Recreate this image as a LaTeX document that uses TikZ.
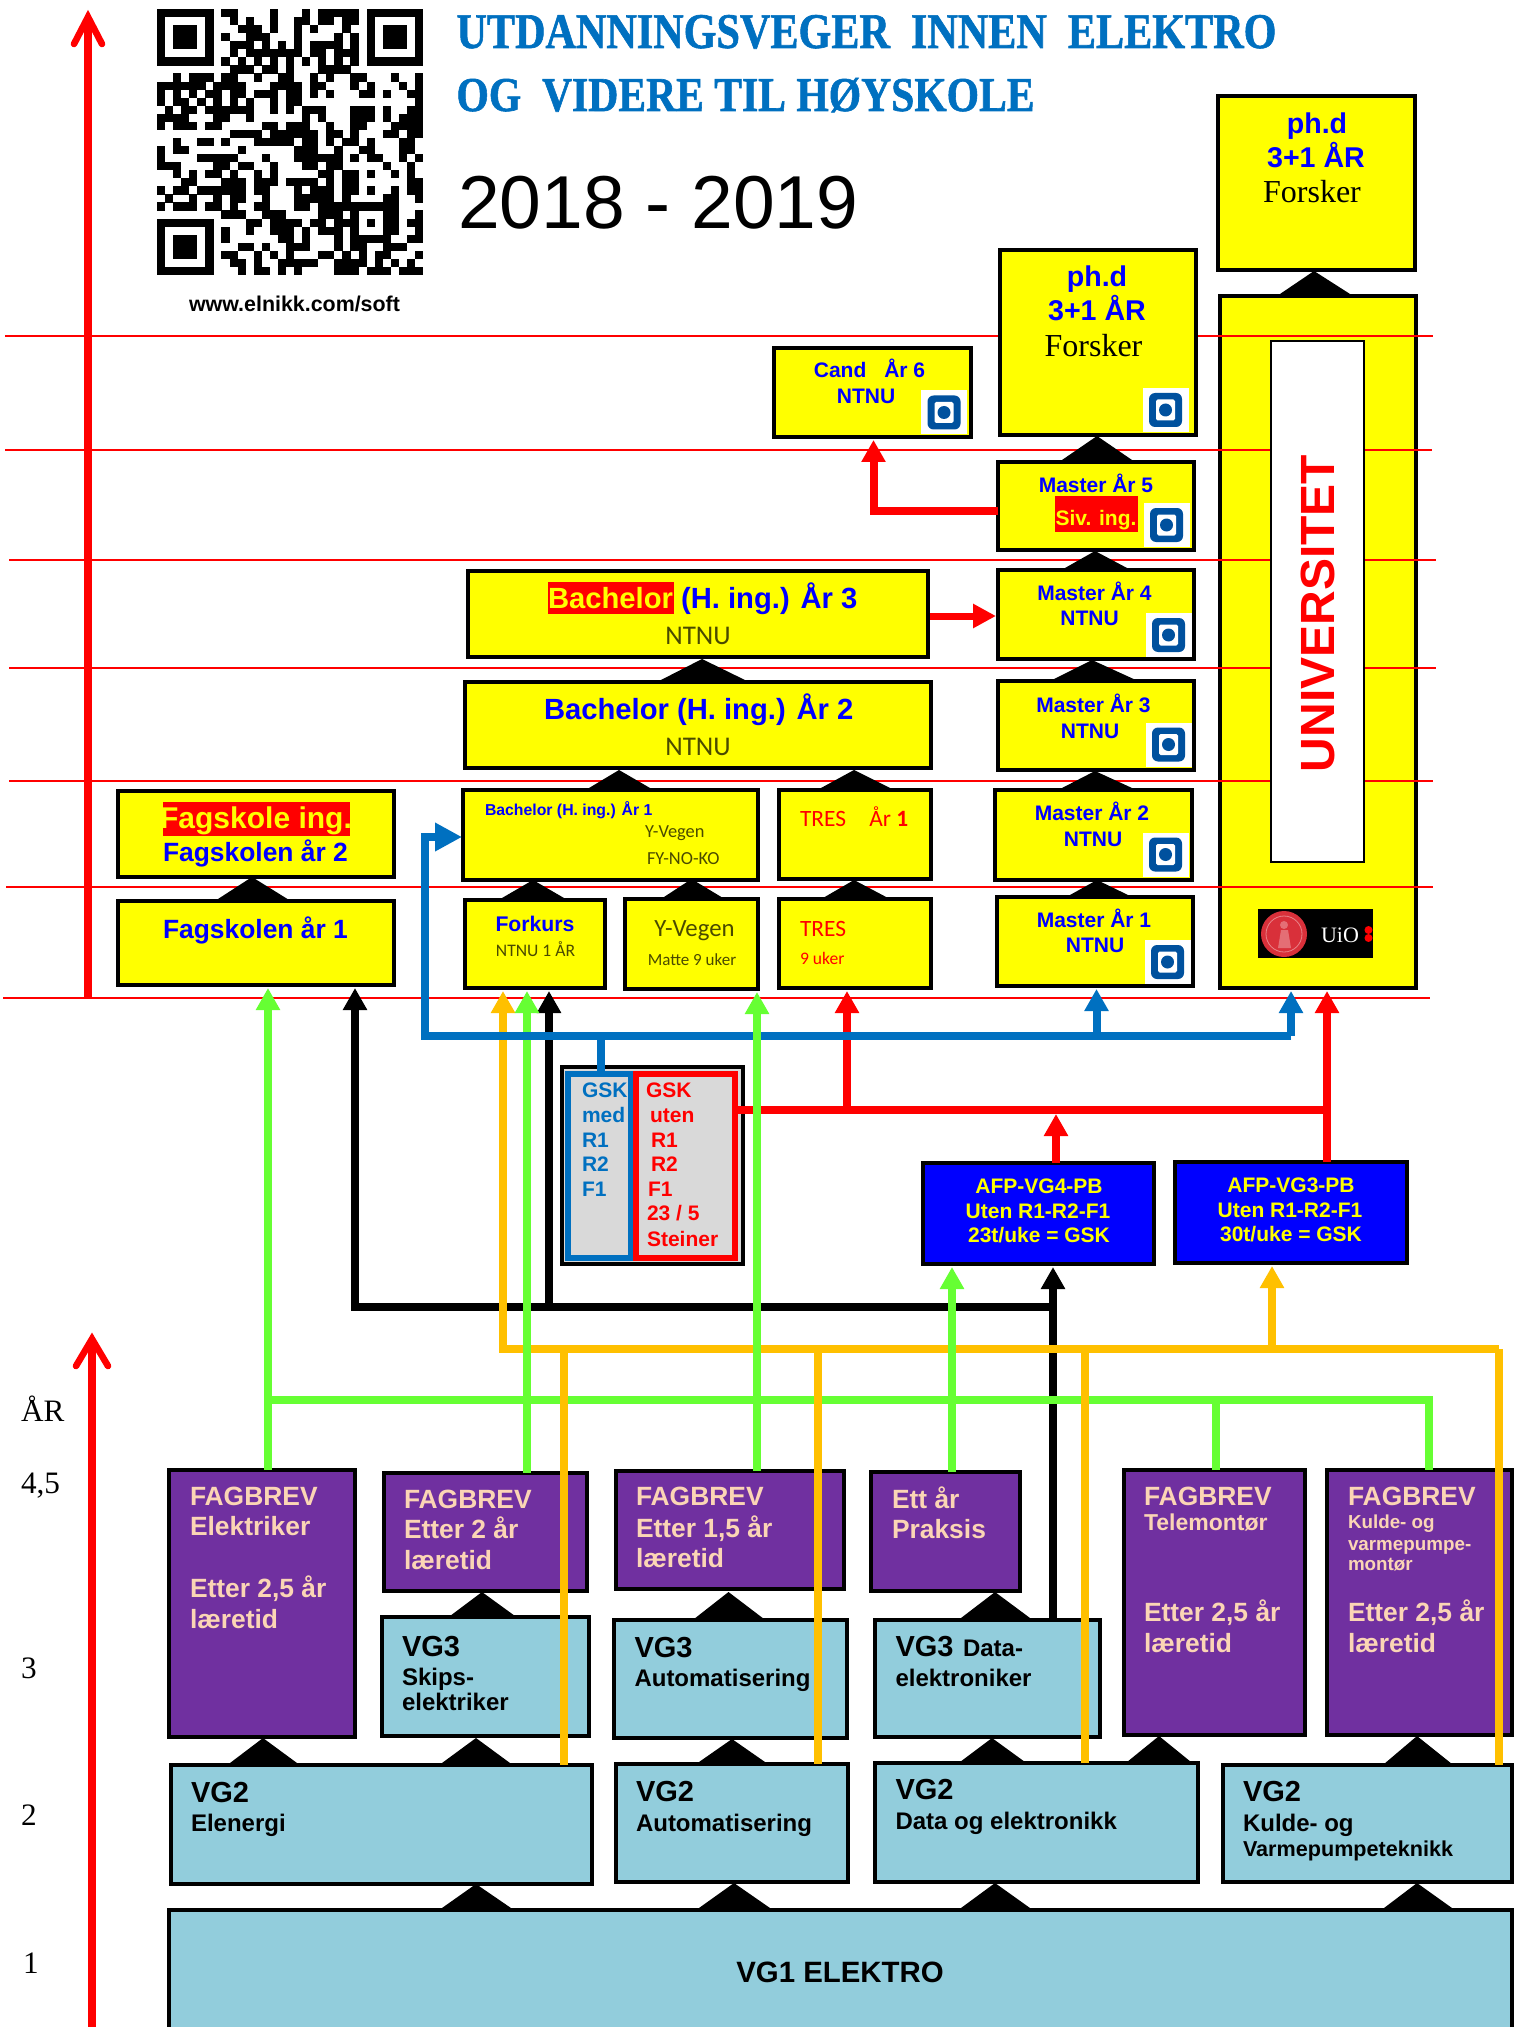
\documentclass[tikz,border=0pt]{standalone}
\usepackage{fontspec}
\usepackage{graphicx}
\usetikzlibrary{arrows.meta}
\setmainfont{Liberation Sans}
\newfontfamily\tmsf{Liberation Serif}
\newfontfamily\thinf{Carlito}
\newfontfamily\ttlf{Liberation Serif Bold}[FakeBold=1.3]
\definecolor{yellow}{HTML}{FFFF00}
\definecolor{red}{HTML}{FF0000}
\definecolor{blue}{HTML}{0000FF}
\definecolor{gblue}{HTML}{0070C0}
\definecolor{ggreen}{HTML}{66FF33}
\definecolor{gorange}{HTML}{FFC000}
\definecolor{gpurple}{HTML}{7030A0}
\definecolor{gteal}{HTML}{92CDDC}
\definecolor{gpeach}{HTML}{FBD5B5}
\definecolor{ggrey}{HTML}{D9D9D9}
\definecolor{ntnub}{HTML}{00519E}
\definecolor{thincol}{HTML}{4A4A00}
\definecolor{uiored}{HTML}{D9303A}
\newcount\qrR \newcount\qrC
\def\qrscan#1{\ifx#1;\else\if#11\relax\fill[black] ({157+\the\qrC*8.06},{9+\the\qrR*8.06}) rectangle +(8.2,8.2);\fi\advance\qrC by1 \expandafter\qrscan\fi}
\def\qrrow#1;{\qrC=0 \qrscan#1;\advance\qrR by1 }
\newcounter{lbl}
\tikzset{
 box/.style={draw=black,line width=2pt,inner sep=0pt,outer sep=0pt},
 yel/.style={fill=yellow},
 pur/.style={fill=gpurple},
 teal/.style={fill=gteal},
 conn/.style={line width=4pt,line cap=butt,line join=miter},
 head/.style={-{Triangle[length=11pt,width=11.5pt]},shorten >=1.5pt},
 thinred/.style={draw=red,line width=1pt},
 lab/.style={inner sep=0pt,outer sep=0pt},
}
\newcommand{\bxx}[6]{\pgfmathsetmacro\bcx{(#3+#5)/2}\pgfmathsetmacro\bcy{(#4+#6)/2}\pgfmathsetmacro\bw{(#5-#3-4)*0.5}\pgfmathsetmacro\bh{(#6-#4-4)*0.5}\node[box,#1,minimum width=\bw pt,minimum height=\bh pt] (#2) at (\bcx,\bcy) {};}
\newcommand{\txtl}[5]{\stepcounter{lbl}\node[lab,anchor=base west,text=#2,font=\fontsize{#1}{#1}\selectfont\bfseries] (lbl\arabic{lbl}) at (#3,#4) {#5};}
\newcommand{\txtc}[5]{\stepcounter{lbl}\node[lab,anchor=base,text=#2,font=\fontsize{#1}{#1}\selectfont\bfseries] (lbl\arabic{lbl}) at (#3,#4) {#5};}
\newcommand{\uptri}[5]{\fill[black] (#1,#2-2) -- (#3,#5+1) -- (#4,#5+1) -- cycle;}
\newcommand{\ntnulogo}[2]{\begin{scope}[shift={(#1,#2)}]
 \fill[white] (-23,-22) rectangle (23,22);
 \fill[ntnub,rounded corners=3pt] (-16.5,-17) rectangle (16.5,17);
 \fill[white,rounded corners=0.8pt] (-9.5,-10.5) rectangle (9.5,10.5);
 \fill[ntnub] (0,0) circle [radius=6.5];
\end{scope}}
\begin{document}
\begin{tikzpicture}[x=0.5pt,y=-0.5pt]
\useasboundingbox (0,0) rectangle (1523,2027);
\clip (0,0) rectangle (1523,2027);
\fill[white] (0,0) rectangle (1523,2027);
% University outer frame lies under the year lines
\bxx{yel}{uni}{1218}{294}{1418}{990}
% year lines
\draw[thinred] (5,336) -- (1433,336);
\draw[thinred] (5,450) -- (1432,450);
\draw[thinred] (9,560) -- (1436,560);
\draw[thinred] (9,668) -- (1436,668);
\draw[thinred] (9,781) -- (1433,781);
\draw[thinred] (6,887) -- (1433,887);
\draw[thinred] (3,998) -- (1430,998);
% years arrows
\draw[red,line width=3.6pt] (88,998) -- (88,20);
\draw[red,line width=3.3pt,line cap=round,line join=miter] (74,44) -- (88,17) -- (102,44);
\draw[red,line width=3.6pt] (92,2027) -- (92,1342);
\draw[red,line width=3.3pt,line cap=round,line join=miter] (76,1366) -- (92,1339) -- (108,1366);
% QR code
\qrrow 1111111 0 110000100 010111110 1111111;
\qrrow 1000001 0 010100100 110110110 1000001;
\qrrow 1011101 0 001110100 101000100 1011101;
\qrrow 1011101 0 100111000 100001010 1011101;
\qrrow 1011101 0 011101010 101111010 1011101;
\qrrow 1000001 0 010111111 101101110 1000001;
\qrrow 1111111 0 101010101 010101010 1111111;
\qrrow 0000000 0 011101101 000111100 0000000;
\qrrow 0010111 0 110010011 001010011 0001001;
\qrrow 1111110 1 111000111 101100010 1000101;
\qrrow 1010101 1 011011101 101010001 1010011;
\qrrow 1011010 1 010100101 100000000 0000001;
\qrrow 0101101 1 111100101 011100011 1010011;
\qrrow 1111000 1 100100000 010100011 1010111;
\qrrow 1011101 1 000001101 110010011 0001111;
\qrrow 0000000 0 011110111 111011010 0011011;
\qrrow 0010011 0 100011111 011010110 1000110;
\qrrow 1011000 0 001000000 111001001 1000110;
\qrrow 1000011 1 110001000 111111010 1100101;
\qrrow 1110000 1 101100100 011011000 0010010;
\qrrow 0010101 1 010010100 000110110 1001010;
\qrrow 0001100 0 111011101 111010110 0000011;
\qrrow 1011011 1 111011000 101110110 1001011;
\qrrow 0100100 1 011001000 111110100 0011001;
\qrrow 1011101 1 010011000 110111111 1111000;
\qrrow 0000000 0 111001110 000111010 0011001;
\qrrow 1111111 0 000110111 101101110 1011011;
\qrrow 1000001 0 100100111 010111010 0011001;
\qrrow 1011101 0 100000011 010001011 1110011;
\qrrow 1011101 0 001101001 110001011 0011100;
\qrrow 1011101 0 110010101 000110101 0110001;
\qrrow 1000001 0 011010011 111001111 0101010;
\qrrow 1111111 0 001011010 100001110 1110111;
% boxes
\bxx{fill=white,line width=1pt}{uniin}{1269}{339}{1366}{864}
\bxx{yel}{phdr}{1216}{94}{1417}{272}
\bxx{yel}{phdm}{998}{248}{1198}{437}
\bxx{yel}{cand}{772}{346}{973}{439}
\bxx{yel}{mfive}{996}{460}{1196}{552}
\bxx{yel}{mfour}{996}{568}{1196}{661}
\bxx{yel}{mthree}{996}{679}{1196}{772}
\bxx{yel}{mtwo}{993}{788}{1194}{882}
\bxx{yel}{mone}{995}{895}{1195}{988}
\bxx{yel}{bachc}{466}{569}{930}{659}
\bxx{yel}{bachb}{463}{680}{933}{770}
\bxx{yel}{bacha}{461}{788}{760}{882}
\bxx{yel}{tresa}{777}{788}{933}{881}
\bxx{yel}{fagb}{116}{789}{396}{879}
\bxx{yel}{faga}{116}{899}{396}{987}
\bxx{yel}{forkurs}{463}{898}{607}{990}
\bxx{yel}{yvegen}{623}{897}{760}{991}
\bxx{yel}{tresb}{777}{897}{933}{990}
\bxx{fill=ggrey}{gsk}{560}{1065}{745}{1266}
\bxx{draw=gblue,line width=2.8pt,fill=ggrey}{gskb}{566}{1072}{633}{1260}
\bxx{draw=red,line width=2.8pt,fill=ggrey}{gskr}{634}{1072}{737}{1260}
\bxx{fill=blue}{afpa}{921}{1161}{1156}{1266}
\bxx{fill=blue}{afpb}{1173}{1160}{1409}{1265}
\bxx{pur,line width=2pt}{fbel}{167}{1468}{357}{1739}
\bxx{pur,line width=2pt}{fbto}{382}{1471}{589}{1593}
\bxx{pur,line width=2pt}{fbau}{614}{1469}{846}{1591}
\bxx{pur,line width=2pt}{ett}{869}{1470}{1022}{1593}
\bxx{pur,line width=2pt}{fbte}{1122}{1468}{1307}{1737}
\bxx{pur,line width=2pt}{fbku}{1325}{1468}{1514}{1737}
\bxx{teal,line width=1.8pt}{vgskip}{380}{1615}{591}{1738}
\bxx{teal,line width=1.8pt}{vgauto}{612}{1618}{849}{1740}
\bxx{teal,line width=1.8pt}{vgdata}{873}{1618}{1102}{1739}
\bxx{teal,line width=1.8pt}{vbel}{169}{1763}{594}{1886}
\bxx{teal,line width=1.8pt}{vbau}{614}{1762}{850}{1884}
\bxx{teal,line width=1.8pt}{vbda}{873}{1761}{1200}{1884}
\bxx{teal,line width=1.8pt}{vbku}{1221}{1763}{1514}{1884}
\bxx{teal,line width=1.8pt}{vgone}{167}{1908}{1514}{2080}
% highlight strips
\fill[red] (1055,496) rectangle (1138,532);
\fill[red] (548,582) rectangle (674,614);
\fill[red] (162.5,802) rectangle (350,836);
% logos
\ntnulogo{944}{412.5}
\ntnulogo{1165.5}{410}
\ntnulogo{1166.5}{525}
\ntnulogo{1168.5}{635}
\ntnulogo{1168.5}{744.5}
\ntnulogo{1165.5}{854.5}
\ntnulogo{1167.5}{962}
% UiO
\fill[black] (1258,909) rectangle (1373,958);
\fill[uiored] (1284,934) circle [radius=23];
\draw[white!40!uiored,line width=0.4pt] (1284,934) circle [radius=18];
\fill[white!30!uiored] (1284,925) circle [radius=4];
\fill[white!30!uiored] (1278,948) -- (1281,930) -- (1288,930) -- (1291,948) -- cycle;
\fill[red] (1368.5,930) circle [radius=4];
\fill[red] (1368.5,938) circle [radius=4];
\txtl{11}{white}{1321}{942}{\tmsf\mdseries UiO}
% titles
\stepcounter{lbl}\node[lab,anchor=base west,text=gblue] (titlea) at (456.5,48) {\resizebox{410pt}{16.5pt}{\ttlf UTDANNINGSVEGER~~INNEN~~ELEKTRO}};
\stepcounter{lbl}\node[lab,anchor=base west,text=gblue] (titleb) at (456.5,111) {\resizebox{289pt}{16.5pt}{\ttlf OG~~VIDERE TIL HØYSKOLE}};
\txtl{37.5}{black}{458}{229}{\mdseries 2018 - 2019}
\txtc{10.7}{black}{294.5}{312}{www.elnikk.com/soft}
% texts yellow column
\txtc{14.3}{blue}{1317}{133.5}{ph.d}
\txtc{14.3}{blue}{1316}{167.5}{3+1 ÅR}
\txtc{16}{black}{1312}{203}{\tmsf\mdseries Forsker}
\txtc{14.3}{blue}{1097}{287}{ph.d}
\txtc{14.3}{blue}{1097}{321}{3+1 ÅR}
\txtc{16}{black}{1093.5}{357}{\tmsf\mdseries Forsker}
\txtc{10.5}{blue}{869.5}{378}{Cand\hspace{0.85em}År 6}
\txtc{10.5}{blue}{866}{404}{NTNU}
\txtc{10.5}{blue}{1096}{492.5}{Master År 5}
\txtc{10.5}{yellow}{1096}{525}{Siv. ing.}
\txtc{10.5}{blue}{1094.5}{600}{Master År 4}
\txtc{10.5}{blue}{1089.5}{625}{NTNU}
\txtc{10.5}{blue}{1093.5}{712}{Master År 3}
\txtc{10.5}{blue}{1090}{738}{NTNU}
\txtc{10.5}{blue}{1092}{820}{Master År 2}
\txtc{10.5}{blue}{1093}{846}{NTNU}
\txtc{10.5}{blue}{1094}{927}{Master År 1}
\txtc{10.5}{blue}{1095}{952}{NTNU}
\stepcounter{lbl}\node[lab,rotate=90,text=red,font=\fontsize{24}{24}\selectfont\bfseries] (unitext) at (1318,613.5) {UNIVERSITET};
% bachelor
\txtl{14.6}{blue}{548}{608}{\textcolor{yellow}{Bachelor} (H. ing.) År 3}
\txtc{13.5}{thincol}{698}{644}{\thinf\mdseries NTNU}
\txtl{14.6}{blue}{544}{719}{Bachelor (H. ing.) År 2}
\txtc{13.5}{thincol}{698}{755}{\thinf\mdseries NTNU}
\txtl{7.9}{blue}{485}{815}{Bachelor (H. ing.) År 1}
\txtl{9.2}{thincol}{645}{837}{\thinf\mdseries Y-Vegen}
\txtl{9.2}{thincol}{647}{864}{\thinf\mdseries FY-NO-KO}
\txtl{11.7}{red}{800}{826}{\thinf\mdseries TRES\hspace{1em}År {\bfseries 1}}
\txtl{11.7}{red}{800}{936}{\thinf\mdseries TRES}
\txtl{8.8}{red}{800}{964}{\thinf\mdseries 9 uker}
\txtc{12.4}{thincol}{694.5}{936}{\thinf\mdseries Y-Vegen}
\txtc{8.5}{thincol}{692}{965}{\thinf\mdseries Matte 9 uker}
\txtc{10.6}{blue}{535}{931}{Forkurs}
\txtc{8.8}{thincol}{535.5}{956}{\thinf\mdseries NTNU 1 ÅR}
\txtc{15}{yellow}{256}{828}{Fagskole ing.}
\txtl{13.2}{blue}{163}{861}{Fagskolen år 2}
\txtl{13.2}{blue}{163}{938}{Fagskolen år 1}
% GSK
\txtl{10.5}{gblue}{582}{1097}{GSK}
\txtl{10.5}{gblue}{582}{1122}{med}
\txtl{10.5}{gblue}{582}{1147}{R1}
\txtl{10.5}{gblue}{582}{1171}{R2}
\txtl{10.5}{gblue}{582}{1196}{F1}
\txtl{10.5}{red}{646}{1097}{GSK}
\txtl{10.5}{red}{650}{1122}{uten}
\txtl{10.5}{red}{651}{1147}{R1}
\txtl{10.5}{red}{651}{1171}{R2}
\txtl{10.5}{red}{648}{1196}{F1}
\txtl{10.5}{red}{647}{1220}{23 / 5}
\txtl{10.5}{red}{647}{1246}{Steiner}
% AFP
\txtc{10.5}{yellow}{1039}{1193}{AFP-VG4-PB}
\txtc{10.5}{yellow}{1038}{1218}{Uten R1-R2-F1}
\txtc{10.5}{yellow}{1039}{1242}{23t/uke = GSK}
\txtc{10.5}{yellow}{1291}{1192}{AFP-VG3-PB}
\txtc{10.5}{yellow}{1290}{1217}{Uten R1-R2-F1}
\txtc{10.5}{yellow}{1291}{1241}{30t/uke = GSK}
% purple
\txtl{13.2}{gpeach}{190}{1505}{FAGBREV}
\txtl{13.2}{gpeach}{190}{1535}{Elektriker}
\txtl{13.2}{gpeach}{190}{1597}{Etter 2,5 år}
\txtl{13.2}{gpeach}{190}{1628}{læretid}
\txtl{13.2}{gpeach}{404}{1508}{FAGBREV}
\txtl{13.2}{gpeach}{404}{1538}{Etter 2 år}
\txtl{13.2}{gpeach}{404}{1569}{læretid}
\txtl{13.2}{gpeach}{636}{1505}{FAGBREV}
\txtl{13.2}{gpeach}{636}{1537}{Etter 1,5 år}
\txtl{13.2}{gpeach}{636}{1567}{læretid}
\txtl{13.2}{gpeach}{892}{1508}{Ett år}
\txtl{13.2}{gpeach}{892}{1538}{Praksis}
\txtl{13.2}{gpeach}{1144}{1505}{FAGBREV}
\txtl{11.5}{gpeach}{1144}{1530}{Telemontør}
\txtl{13.2}{gpeach}{1144}{1621}{Etter 2,5 år}
\txtl{13.2}{gpeach}{1144}{1652}{læretid}
\txtl{13.2}{gpeach}{1348}{1505}{FAGBREV}
\txtl{9.4}{gpeach}{1348}{1528}{Kulde- og}
\txtl{9.4}{gpeach}{1348}{1550}{varmepumpe-}
\txtl{9.4}{gpeach}{1348}{1570}{montør}
\txtl{13.2}{gpeach}{1348}{1621}{Etter 2,5 år}
\txtl{13.2}{gpeach}{1348}{1652}{læretid}
% teal
\txtl{14.5}{black}{402}{1656}{VG3}
\txtl{12}{black}{402}{1685}{Skips-}
\txtl{12}{black}{402}{1710}{elektriker}
\txtl{14.5}{black}{634.5}{1657}{VG3}
\txtl{12}{black}{634.5}{1686}{Automatisering}
\txtl{14.5}{black}{895.5}{1656}{VG3}
\txtl{12}{black}{963}{1656}{Data-}
\txtl{12}{black}{895.5}{1686}{elektroniker}
\txtl{14.5}{black}{191}{1802}{VG2}
\txtl{12}{black}{191}{1831}{Elenergi}
\txtl{14.5}{black}{636}{1801}{VG2}
\txtl{12}{black}{636}{1831}{Automatisering}
\txtl{14.5}{black}{895.5}{1799}{VG2}
\txtl{12}{black}{895.5}{1829}{Data og elektronikk}
\txtl{14.5}{black}{1243}{1801}{VG2}
\txtl{12}{black}{1243}{1831}{Kulde- og}
\txtl{10.8}{black}{1243}{1856}{Varmepumpeteknikk}
\txtc{14.7}{black}{840}{1982}{VG1 ELEKTRO}
% years
\txtl{15.6}{black}{21}{1421}{\tmsf\mdseries ÅR}
\txtl{15.6}{black}{21}{1493}{\tmsf\mdseries 4,5}
\txtl{15.6}{black}{21}{1678}{\tmsf\mdseries 3}
\txtl{15.6}{black}{21}{1825}{\tmsf\mdseries 2}
\txtl{15.6}{black}{23}{1973}{\tmsf\mdseries 1}
% triangles
\uptri{1314}{273}{1280}{1350}{293}
\uptri{1097}{438}{1062}{1132}{459}
\uptri{1095}{553}{1065}{1127}{567}
\uptri{1092}{662}{1050}{1138}{680}
\uptri{1095}{773}{1062}{1132}{787}
\uptri{1097}{882}{1070}{1128}{894}
\uptri{702}{661}{659}{747}{680}
\uptri{619}{772}{589}{650}{787}
\uptri{854}{772}{821}{890}{787}
\uptri{854}{882}{823}{888}{897}
\uptri{533}{882}{502}{564}{897}
\uptri{691.5}{881}{662.5}{723}{897}
\uptri{252}{879}{218}{287.5}{898}
\uptri{482}{1594}{450}{515}{1615}
\uptri{728.5}{1594}{694}{764}{1618}
\uptri{995}{1594}{961}{1030}{1617}
\uptri{263}{1740}{230}{297}{1762}
\uptri{476}{1740}{442}{510}{1762}
\uptri{732}{1741}{699}{765}{1761}
\uptri{992}{1740}{960}{1025}{1761}
\uptri{1159}{1738}{1127}{1191}{1761}
\uptri{1417}{1738}{1384}{1452}{1763}
\uptri{476}{1886}{442}{511}{1907}
\uptri{734}{1885}{699}{770}{1907}
\uptri{995}{1885}{961}{1030}{1907}
\uptri{1417}{1885}{1384}{1452}{1907}
% junction coordinates
\coordinate (bbusL) at (355,1307);
\coordinate (bbusR) at (1053,1307);
\coordinate (obusL) at (503,1349);
\coordinate (obusR) at (1499,1349);
\coordinate (gbusL) at (268,1400);
\coordinate (gbusR) at (1429,1400);
\coordinate (blueL) at (425,1036);
\coordinate (blueR) at (1291,1036);
\coordinate (blueT) at (425,837);
\coordinate (redR) at (1327,1110);
\coordinate (cornerC) at (873.5,511);
% red connectors
\draw[conn,draw=red] (gskr.east |- redR) -- (redR);
\draw[conn,draw=red,head] (847,0 |- redR) -- (847,0 |- tresb.south);
\draw[conn,draw=red,head] (redR |- afpb.north) -- (redR |- uni.south);
\draw[conn,draw=red,head,shorten >=0pt] (1056,0 |- afpa.north) -- (1056,1114);
\draw[conn,draw=red,head] (mfive.west |- cornerC) -- (cornerC) -- (cornerC |- cand.south);
\draw[line width=3.5pt,draw=red,-{Triangle[length=11.5pt,width=11.5pt]},shorten >=1pt,shorten <=1pt] (bachc.east |- 0,616) -- (mfour.west |- 0,616);
% black connectors
\draw[conn,draw=black,head] (bbusR |- vgdata.north) -- (bbusR |- afpa.south);
\draw[conn,draw=black,head] (bbusR) -- (bbusL) -- (bbusL |- faga.south);
\draw[conn,draw=black,head] (549,0 |- bbusL) -- (549,0 |- forkurs.south);
% orange connectors
\draw[conn,draw=gorange,head] (obusR) -- (obusL) -- (obusL |- forkurs.south);
\draw[conn,draw=gorange,head] (1272,0 |- obusR) -- (1272,0 |- afpb.south);
% green connectors
\draw[conn,draw=ggreen,head] (gbusL |- fbel.north) -- (gbusL |- faga.south);
\draw[conn,draw=ggreen] (gbusL) -- (gbusR) -- (gbusR |- fbku.north);
\draw[conn,draw=ggreen,head] (527,0 |- fbto.north) -- (527,0 |- forkurs.south);
\draw[conn,draw=ggreen,head] (952,0 |- ett.north) -- (952,0 |- afpa.south);
\draw[conn,draw=ggreen] (1215.5,0 |- fbte.north) -- (1215.5,0 |- gbusL);
% orange drops over the green bus
\draw[conn,draw=gorange] (obusR) -- (obusR |- vbku.north);
\draw[conn,draw=gorange] (564,0 |- obusR) -- (564,0 |- vbel.north);
\draw[conn,draw=gorange] (818,0 |- obusR) -- (818,0 |- vbau.north);
\draw[conn,draw=gorange] (1085,0 |- obusR) -- (1085,0 |- vbda.north);
% blue connectors
\draw[conn,draw=gblue] (601,0 |- gskb.north) -- (601,0 |- blueL);
\draw[conn,draw=gblue,-{Triangle[length=13.5pt,width=13.5pt]},shorten >=0.5pt] (blueR) -- (blueL) -- (blueT) -- (bacha.west |- blueT);
\draw[conn,draw=gblue,head] (blueR) -- (blueR |- uni.south);
\draw[conn,draw=gblue,head] (1096.5,0 |- blueL) -- (1096.5,0 |- mone.south);
% last green, over the blue and red
\draw[conn,draw=ggreen,head] (757,0 |- fbau.north) -- (757,0 |- yvegen.south);
\end{tikzpicture}
\end{document}
